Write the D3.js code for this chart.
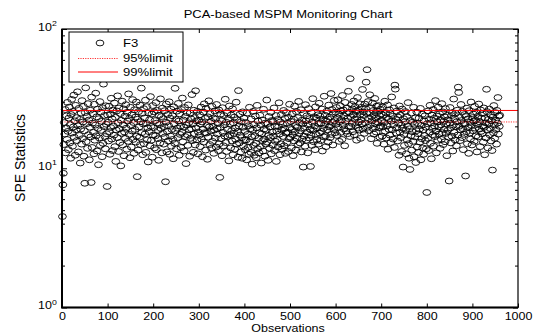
<!DOCTYPE html>
<meta charset="utf-8">
<style>
body { margin: 0; background: #fff; }
svg text { font-family: "Liberation Sans", Arial, sans-serif; fill: #000; }
</style>
<svg id="chart" width="536" height="332"></svg>
<script src="https://cdn.jsdelivr.net/npm/d3@7"></script>
<script>

// SPE values, 100 observations per block
var obs001 = [4.5,7.6,9.2,14.8,21.3,17.6,26.4,12.9,19.5,23.8,16.1,29.7,18.4,13.6,22.9,27.5,15.2,20.6,11.8,24.3,
  31.2,17.9,14.4,25.6,19.8,33.5,16.7,21.9,12.4,28.3,18.9,23.1,15.8,35.4,20.2,13.1,26.9,17.2,22.4,10.9,
  19.1,24.9,14.9,30.6,16.3,21.5,27.8,12.2,18.6,7.8,25.1,37.8,15.5,20.9,23.6,13.9,29.1,17.4,22.2,11.5,
  19.7,26.1,16.8,7.9,32.4,14.1,21.1,24.6,18.1,12.7,28.8,15.9,20.4,34.6,17.1,23.4,13.3,26.6,19.3,10.6,
  22.7,16.5,30.1,14.6,25.3,18.7,21.7,12.1,27.2,15.1,40.2,19.9,23.9,16.9,13.8,28.1,20.7,17.7,7.4,24.1];
var obs101 = [21.4,15.7,27.9,18.3,12.6,24.4,19.6,31.8,16.2,22.6,13.4,26.2,20.1,17.3,29.4,14.3,23.2,11.2,18.8,25.8,
  16.6,33.1,21.2,13.2,27.1,19.2,15.3,24.7,10.4,22.1,17.8,30.3,14.7,20.5,26.7,12.3,18.2,23.7,16.4,28.6,
  19.4,13.7,25.2,21.8,15.6,34.2,17.5,22.8,11.9,27.4,20.3,14.2,24.2,18.5,31.1,16.1,21.3,12.8,26.3,19.0,
  23.3,15.4,29.9,17.0,8.7,22.5,13.5,25.5,19.8,16.7,28.4,14.8,21.6,37.6,18.0,24.8,12.5,20.8,26.8,15.0,
  23.0,17.6,30.8,13.0,21.0,27.7,16.0,19.5,11.1,25.0,18.3,22.3,14.5,32.7,20.0,15.9,24.5,12.0,28.2,17.3];
var obs201 = [19.6,25.4,14.0,22.0,17.1,29.6,13.6,21.1,26.0,16.3,18.7,11.4,24.0,20.6,15.2,31.5,19.3,23.5,12.9,27.0,
  17.8,22.7,14.9,19.9,25.9,16.8,8.0,21.4,28.9,13.1,18.4,24.3,15.7,20.2,30.0,12.6,22.9,17.0,26.5,14.4,
  19.0,23.8,16.1,11.7,27.6,20.9,15.1,37.5,18.6,22.4,13.8,25.7,19.4,16.6,29.2,21.8,12.4,24.6,17.5,20.1,
  14.1,26.4,18.1,31.9,15.5,22.2,19.7,13.3,27.3,16.9,23.6,10.8,20.4,25.1,17.4,14.6,28.5,21.2,18.9,12.2,
  24.9,16.4,22.6,19.2,33.8,15.8,20.8,13.0,26.1,17.7,23.1,14.7,36.0,19.5,21.9,16.0,25.6,12.7,18.2,22.1];
var obs301 = [17.2,24.2,14.3,20.7,27.5,16.2,21.5,12.1,19.1,25.3,15.4,29.0,18.0,22.8,13.5,26.9,17.9,20.3,11.6,23.4,
  16.7,30.5,19.8,14.8,24.7,18.5,21.7,13.9,27.8,15.6,20.0,23.0,12.8,18.8,25.8,16.5,22.5,14.2,28.7,19.3,
  17.6,21.0,13.4,26.2,15.0,8.6,19.6,24.5,16.3,22.0,12.3,27.2,18.1,14.5,23.9,20.5,17.0,31.3,15.3,21.4,
  13.2,25.0,19.0,16.9,22.7,11.3,28.0,17.4,20.8,14.0,24.1,18.6,15.7,26.7,12.5,21.2,17.8,23.3,13.7,19.4,
  16.1,29.8,14.9,22.3,18.3,12.0,36.1,20.1,15.2,24.4,17.3,13.1,21.6,16.6,11.8,25.4,19.7,14.4,22.9,15.9];
var obs401 = [18.4,13.6,21.3,16.0,11.5,24.9,17.5,14.1,20.2,12.6,27.4,15.5,19.2,13.0,22.6,16.8,10.7,18.9,25.6,14.6,
  20.6,12.4,17.1,23.7,15.1,11.9,19.5,28.3,13.8,21.8,16.4,12.9,18.0,24.0,14.3,20.4,10.9,17.7,22.2,15.8,
  13.3,26.5,19.1,16.2,12.2,21.1,14.9,18.7,30.9,15.4,20.9,11.4,17.2,23.5,13.9,19.8,16.6,25.2,12.7,22.0,
  18.2,14.7,21.6,17.0,27.1,13.4,20.0,15.6,23.9,11.2,18.5,16.1,22.4,14.2,19.9,29.5,17.6,12.5,21.5,15.0,
  24.3,18.8,13.7,20.7,16.9,26.0,14.5,19.3,22.8,12.8,17.9,25.1,15.3,21.0,18.1,13.2,23.2,16.3,28.8,19.6];
var obs501 = [16.7,21.7,14.0,19.0,24.6,17.4,12.3,22.5,15.7,27.9,18.3,20.3,13.5,25.5,16.4,19.7,23.1,14.8,30.2,17.8,
  21.2,15.2,18.6,26.3,13.1,22.1,16.2,20.8,10.2,24.8,17.0,19.4,14.4,28.6,21.9,15.9,23.8,18.2,12.9,20.5,
  26.8,16.5,22.7,19.1,10.3,17.3,25.0,14.6,21.4,31.6,18.7,15.5,23.4,20.1,13.6,27.6,17.6,22.9,16.0,19.5,
  24.2,14.9,20.9,29.3,17.9,23.6,15.8,21.1,18.4,26.6,13.3,22.4,19.3,16.8,32.9,20.6,24.0,17.1,14.3,21.8,
  25.7,18.9,22.6,15.4,28.4,19.8,23.3,16.6,20.2,34.4,17.5,26.4,21.3,14.7,24.7,19.0,30.7,22.0,18.0,25.3];
var obs601 = [20.7,27.3,17.2,23.0,31.0,19.6,24.5,15.6,21.6,28.1,18.1,25.9,22.3,16.1,33.3,20.4,26.2,19.2,23.7,14.5,
  29.7,21.7,18.5,24.9,27.0,17.7,22.8,35.7,20.0,25.2,16.9,44.0,23.5,19.9,28.7,21.0,26.7,18.3,24.1,30.4,
  17.4,22.5,27.7,20.3,25.8,15.9,23.2,32.2,19.4,26.1,21.5,18.8,29.0,24.4,16.4,22.2,27.4,20.8,36.8,19.1,
  25.4,23.9,17.8,28.9,21.2,26.9,41.5,24.8,51.0,19.7,30.1,22.7,18.6,25.0,33.7,20.5,27.2,16.3,23.4,21.9,
  29.4,19.3,26.0,17.6,24.3,31.7,20.9,22.9,18.2,27.9,15.1,25.6,21.4,28.2,19.5,23.8,16.7,26.5,20.1,24.6];
var obs701 = [22.1,17.0,27.6,19.8,24.0,14.9,21.3,30.3,18.4,25.1,16.5,23.1,20.2,28.5,13.7,22.6,19.0,26.3,17.3,24.7,
  15.3,21.8,32.5,18.9,23.6,16.2,20.6,27.1,14.1,39.5,37.0,22.4,17.9,25.7,19.6,15.7,23.3,21.1,12.4,28.0,
  18.1,24.2,16.6,20.4,13.2,26.6,19.4,10.2,22.7,17.5,14.6,21.6,25.5,18.7,12.7,23.5,16.0,20.0,29.6,15.0,
  11.8,19.2,9.8,22.0,17.1,24.9,13.5,18.3,21.4,15.6,27.4,12.1,20.7,16.8,23.0,11.0,18.6,25.3,14.2,21.0,
  17.7,13.0,22.9,19.1,15.4,26.9,11.5,20.3,16.3,24.4,14.0,18.8,12.6,21.9,17.2,23.8,15.8,19.7,13.8,6.7];
var obs801 = [20.9,16.4,25.8,13.4,22.5,18.2,28.3,15.1,21.2,11.7,24.1,19.3,17.4,26.4,14.4,22.8,20.1,16.9,30.6,18.5,
  12.9,23.7,21.5,15.9,27.5,19.8,17.6,24.6,13.9,22.2,20.5,16.1,29.1,18.0,25.4,14.8,21.7,19.0,23.4,15.5,
  26.8,17.8,20.8,12.3,24.0,18.7,22.3,16.7,8.1,21.1,27.3,19.5,15.2,23.9,17.0,25.0,13.3,20.4,31.4,18.1,
  22.7,16.0,24.8,19.9,14.5,21.6,26.1,17.3,38.2,35.0,20.0,23.2,15.8,18.9,28.7,22.0,16.6,25.6,19.2,13.6,
  21.0,17.5,24.3,20.7,8.8,23.5,18.3,27.0,15.0,22.6,19.6,12.8,25.9,17.9,21.4,16.2,29.9,20.3,14.7,23.1];
var obs901 = [18.6,24.5,21.8,15.6,27.8,19.4,22.1,17.1,25.2,13.1,20.6,23.6,16.8,28.9,19.1,21.5,14.3,26.2,18.4,22.9,
  17.7,24.7,20.2,15.4,27.1,19.7,12.5,23.0,21.2,16.5,36.9,25.5,18.8,14.0,22.4,20.8,26.6,17.4,19.3,24.2,
  15.7,21.9,13.4,9.7,23.3,18.0,28.2,20.4,16.4,25.1,22.2,19.0,14.9,26.0,21.1,32.2,17.6,23.7,20.0,24.0];

var seriesName = "F3";
var limitNames = ["95%limit", "99%limit"];
var limitValues = [21.5, 26.0];
var xTicks = [0, 100, 200, 300, 400, 500, 600, 700, 800, 900, 1000];
var yTicks = [1, 10, 100];
var yTickExp = ["0", "1", "2"];

var spe = [].concat(obs001, obs101, obs201, obs301, obs401, obs501, obs601, obs701, obs801, obs901);

var width = 536,
    height = 332,
    margin = {top: 29, right: 18, bottom: 24.5, left: 62},
    sx = 1.25; // the original figure was stretched sideways

var x = d3.scaleLinear().domain([0, 1000]).range([margin.left, width - margin.right]);
var y = d3.scaleLog().domain([1, 100]).range([height - margin.bottom, margin.top]);

var svg = d3.select("#chart");

// minor log ticks 2..9 in each decade
var minor = [];
[1, 10].forEach(function(d) { for (var k = 2; k < 10; k++) minor.push(d * k); });

// observations
svg.append("g")
  .selectAll("ellipse")
  .data(spe)
  .enter().append("ellipse")
    .attr("cx", function(d, i) { return x(i + 1); })
    .attr("cy", function(d) { return y(d); })
    .attr("rx", 3.9)
    .attr("ry", 2.9)
    .attr("fill", "none")
    .attr("stroke", "#000")
    .attr("stroke-width", 0.9);

// control limits
svg.append("g")
  .selectAll("line")
  .data(limitValues)
  .enter().append("line")
    .attr("x1", x(0))
    .attr("x2", x(1000))
    .attr("y1", function(d) { return y(d); })
    .attr("y2", function(d) { return y(d); })
    .attr("stroke", "#f00")
    .attr("stroke-width", function(d, i) { return i === 0 ? 0.8 : 1; })
    .attr("stroke-dasharray", function(d, i) { return i === 0 ? "1.2,1.2" : null; });

// axes, ticks pointing inwards
function clean(g) {
  g.select(".domain").remove();
  g.selectAll(".tick line").attr("stroke", "#000");
}

var xb = svg.append("g")
  .attr("transform", "translate(0," + y(1) + ")")
  .call(d3.axisBottom(x).tickValues(xTicks).tickSize(-4).tickPadding(5).tickFormat(d3.format("d")))
  .call(clean);
xb.selectAll("text")
  .attr("y", 5)
  .attr("transform", "scale(" + sx + ",1)")
  .style("font-size", "10px")
  .style("font-family", "'Liberation Sans', Arial, sans-serif");

svg.append("g")
  .attr("transform", "translate(0," + y(100) + ")")
  .call(d3.axisTop(x).tickValues(xTicks).tickSize(-4).tickFormat(""))
  .call(clean);

svg.append("g")
  .attr("transform", "translate(" + x(0) + ",0)")
  .call(d3.axisLeft(y).tickValues(yTicks).tickSize(-5).tickFormat(""))
  .call(clean);
svg.append("g")
  .attr("transform", "translate(" + x(0) + ",0)")
  .call(d3.axisLeft(y).tickValues(minor).tickSize(-3).tickFormat(""))
  .call(clean);
svg.append("g")
  .attr("transform", "translate(" + x(1000) + ",0)")
  .call(d3.axisRight(y).tickValues(yTicks).tickSize(-5).tickFormat(""))
  .call(clean);
svg.append("g")
  .attr("transform", "translate(" + x(1000) + ",0)")
  .call(d3.axisRight(y).tickValues(minor).tickSize(-3).tickFormat(""))
  .call(clean);

// y tick labels 10^n
var yl = svg.append("g")
  .selectAll("text")
  .data(yTicks)
  .enter().append("text")
    .attr("transform", function(d) {
      return "translate(38," + Math.max(y(d) + 1.5, 24) + ") scale(" + sx + ",1)";
    })
    .style("font-size", "10px");
yl.append("tspan").text("10");
yl.append("tspan")
  .attr("dy", -4.5)
  .style("font-size", "7px")
  .text(function(d, i) { return yTickExp[i]; });

// frame
svg.append("rect")
  .attr("x", x(0))
  .attr("y", y(100))
  .attr("width", x(1000) - x(0))
  .attr("height", y(1) - y(100))
  .attr("fill", "none")
  .attr("stroke", "#000")
  .attr("stroke-width", 1.2);
svg.append("path")
  .attr("d", "M" + x(0) + "," + y(100) + "V" + y(1) + "H" + x(1000))
  .attr("fill", "none")
  .attr("stroke", "#000")
  .attr("stroke-width", 2);

// titles
function label(px, py, txt, size) {
  return svg.append("text")
    .attr("transform", "translate(" + px + "," + py + ") scale(" + sx + ",1)")
    .attr("text-anchor", "middle")
    .style("font-size", size + "px")
    .text(txt);
}
label(288, 18, "PCA-based MSPM Monitoring Chart", 10.4);
label(288, 331.5, "Observations", 10);

svg.append("text")
  .attr("transform", "translate(25,158) rotate(-90)")
  .attr("text-anchor", "middle")
  .style("font-size", "14px")
  .text("SPE Statistics");

// legend
var legend = svg.append("g").attr("transform", "translate(69,32)");
legend.append("rect")
  .attr("width", 114)
  .attr("height", 50)
  .attr("fill", "#fff")
  .attr("stroke", "#000")
  .attr("stroke-width", 1);
legend.append("ellipse")
  .attr("cx", 31)
  .attr("cy", 11)
  .attr("rx", 3.9)
  .attr("ry", 2.9)
  .attr("fill", "none")
  .attr("stroke", "#000")
  .attr("stroke-width", 0.9);
legend.selectAll(".lim")
  .data(limitNames)
  .enter().append("line")
    .attr("class", "lim")
    .attr("x1", 9)
    .attr("x2", 49)
    .attr("y1", function(d, i) { return 26.5 + i * 13.5; })
    .attr("y2", function(d, i) { return 26.5 + i * 13.5; })
    .attr("stroke", "#f00")
    .attr("stroke-width", function(d, i) { return i === 0 ? 0.8 : 1; })
    .attr("stroke-dasharray", function(d, i) { return i === 0 ? "1.2,1.2" : null; });
legend.selectAll(".lt")
  .data([seriesName].concat(limitNames))
  .enter().append("text")
    .attr("class", "lt")
    .attr("transform", function(d, i) { return "translate(54," + (15 + i * 14.5) + ") scale(" + sx + ",1)"; })
    .style("font-size", "10.5px")
    .text(function(d) { return d; });

</script>
